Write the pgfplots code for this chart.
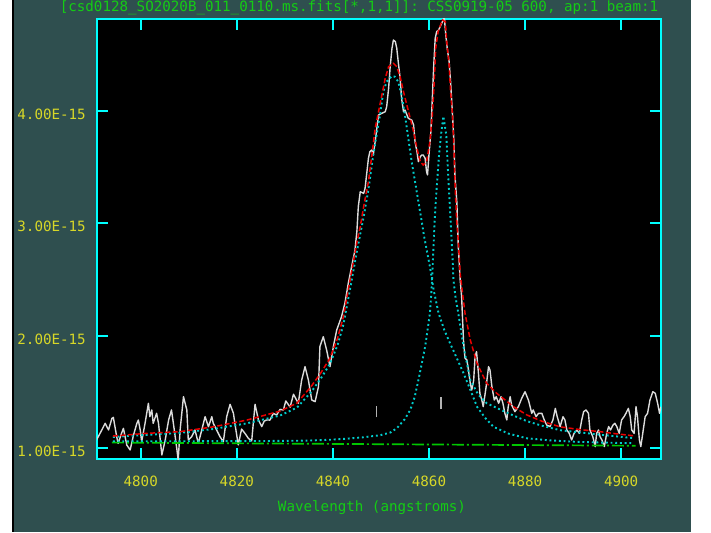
\documentclass[border=0pt]{standalone}
\usepackage{pgfplots}
\usepackage{pgfplotstable}
\pgfplotsset{compat=1.18}
\usepackage{fontspec}
\setmonofont{DejaVu Sans Mono}
\definecolor{slate}{RGB}{47,79,79}
\definecolor{cyanframe}{RGB}{0,255,255}
\definecolor{ticklab}{RGB}{215,215,40}
\definecolor{titlegreen}{RGB}{20,205,20}
\definecolor{compcyan}{RGB}{0,205,205}
\definecolor{fitred}{RGB}{235,0,0}
\definecolor{contgreen}{RGB}{0,200,0}
\definecolor{datawhite}{RGB}{220,220,220}

\pgfplotstableread{
x y
4790.8 1.073
4791.9 1.162
4792.6 1.221
4793.3 1.162
4794.0 1.265
4794.3 1.274
4795.0 1.102
4795.3 1.043
4796.0 1.132
4796.4 1.176
4797.1 1.028
4797.8 0.984
4798.5 1.117
4799.2 1.221
4799.5 1.250
4799.9 1.162
4800.2 1.058
4800.9 1.221
4801.6 1.399
4801.9 1.280
4802.3 1.340
4802.6 1.221
4803.3 1.310
4803.7 1.221
4804.4 0.940
4805.1 1.073
4805.8 1.250
4806.4 1.340
4806.8 1.221
4807.5 0.999
4807.8 0.895
4808.2 1.162
4808.9 1.458
4809.6 1.340
4809.9 1.073
4810.6 1.102
4811.3 1.162
4812.0 1.043
4812.7 1.162
4813.4 1.280
4814.1 1.191
4814.8 1.280
4815.1 1.221
4815.8 1.162
4816.5 1.102
4817.2 1.058
4817.9 1.280
4818.6 1.390
4819.3 1.310
4819.6 1.221
4820.3 1.030
4821.0 1.170
4821.7 1.132
4822.4 1.088
4823.1 1.065
4823.8 1.390
4824.5 1.251
4825.2 1.192
4825.7 1.240
4826.2 1.251
4826.9 1.250
4827.6 1.310
4828.3 1.295
4829.0 1.345
4829.7 1.340
4830.2 1.420
4831.1 1.365
4831.8 1.480
4832.8 1.399
4833.5 1.606
4834.2 1.725
4834.9 1.606
4835.6 1.428
4836.3 1.414
4837.0 1.547
4837.3 1.903
4838.0 1.991
4838.7 1.873
4839.4 1.725
4840.1 1.903
4840.8 2.051
4841.8 2.169
4842.5 2.288
4843.2 2.465
4843.9 2.614
4844.6 2.762
4845.0 2.930
4845.3 3.150
4845.7 3.280
4846.4 3.265
4846.7 3.310
4847.4 3.577
4847.7 3.636
4848.1 3.651
4848.4 3.606
4848.8 3.725
4849.5 3.962
4850.2 3.977
4850.9 3.991
4851.2 4.036
4851.6 4.199
4851.9 4.377
4852.3 4.554
4852.6 4.628
4853.0 4.614
4853.3 4.554
4853.6 4.436
4854.0 4.288
4854.3 4.110
4854.7 3.991
4855.0 4.006
4855.7 3.932
4856.4 3.917
4856.8 3.873
4857.1 3.725
4857.5 3.636
4857.8 3.547
4858.2 3.591
4858.5 3.606
4858.8 3.606
4859.2 3.577
4859.5 3.458
4859.7 3.429
4860.0 3.606
4860.4 3.814
4860.7 4.110
4861.0 4.406
4861.3 4.643
4861.6 4.702
4862.0 4.717
4862.5 4.762
4862.8 4.791
4863.2 4.830
4863.5 4.673
4863.8 4.554
4864.2 4.436
4864.5 4.258
4864.9 3.962
4865.2 3.725
4865.4 3.429
4865.8 3.190
4866.1 2.800
4866.5 2.495
4866.8 2.347
4867.0 2.140
4867.2 1.950
4867.5 1.800
4867.9 1.784
4868.2 1.700
4868.6 1.577
4868.9 1.517
4869.3 1.600
4869.6 1.814
4869.9 1.858
4870.3 1.666
4870.6 1.488
4871.0 1.428
4871.3 1.369
4871.9 1.547
4872.4 1.725
4872.7 1.695
4873.1 1.547
4873.6 1.428
4874.0 1.458
4874.5 1.399
4875.0 1.458
4875.4 1.399
4875.8 1.310
4876.2 1.251
4876.5 1.369
4876.9 1.458
4877.2 1.384
4877.9 1.325
4878.6 1.369
4879.3 1.443
4880.0 1.502
4880.7 1.428
4881.4 1.310
4881.7 1.340
4882.3 1.280
4882.8 1.310
4883.5 1.310
4884.0 1.251
4884.5 1.206
4885.2 1.192
4885.8 1.251
4886.3 1.354
4886.7 1.280
4887.3 1.192
4887.9 1.280
4888.3 1.251
4888.7 1.162
4889.2 1.132
4889.7 1.073
4890.2 1.132
4890.8 1.162
4891.3 1.132
4891.8 1.251
4892.2 1.325
4892.7 1.340
4893.2 1.310
4893.5 1.162
4894.1 1.103
4894.6 1.014
4894.9 1.132
4895.3 1.162
4895.6 1.103
4896.0 1.073
4896.5 1.014
4897.0 1.132
4897.4 1.192
4897.8 1.162
4898.3 1.206
4898.7 1.221
4899.1 1.192
4899.6 1.132
4900.1 1.251
4900.6 1.280
4901.0 1.310
4901.5 1.354
4901.9 1.280
4902.2 1.162
4902.7 1.132
4903.1 1.369
4903.4 1.280
4903.8 1.073
4904.1 1.014
4904.5 1.132
4905.0 1.280
4905.5 1.310
4906.0 1.428
4906.6 1.502
4907.1 1.488
4907.6 1.399
4908.0 1.310
4908.3 1.369
}\spectrum

\pgfplotstableread{
x y
4794.2 1.108
4801.2 1.132
4808.2 1.147
4815.1 1.190
4822.1 1.250
4829.0 1.330
4832.5 1.400
4835.5 1.550
4837.5 1.670
4839.4 1.800
4841.0 1.980
4842.2 2.170
4843.6 2.500
4845.0 2.830
4845.7 2.970
4846.5 3.170
4847.4 3.370
4848.1 3.600
4848.8 3.843
4849.5 3.991
4850.2 4.140
4850.9 4.288
4851.6 4.391
4852.6 4.421
4853.3 4.391
4854.0 4.302
4854.7 4.169
4855.4 4.050
4856.1 3.932
4856.8 3.813
4857.5 3.665
4858.2 3.547
4858.8 3.517
4859.5 3.547
4860.2 3.724
4860.7 3.962
4861.1 4.258
4861.4 4.555
4861.9 4.702
4862.8 4.806
4863.4 4.791
4863.7 4.613
4864.2 4.406
4864.5 4.169
4864.9 3.962
4865.2 3.665
4865.4 3.369
4865.8 3.000
4866.1 2.850
4866.5 2.550
4867.5 2.200
4868.6 1.962
4870.0 1.755
4872.0 1.577
4874.1 1.488
4877.6 1.369
4880.4 1.295
4883.5 1.240
4887.3 1.190
4891.5 1.165
4895.6 1.147
4899.0 1.128
4902.5 1.111
}\fit

\pgfplotstableread{
x y
4794.2 1.100
4801.0 1.118
4808.0 1.135
4815.0 1.170
4822.0 1.220
4829.0 1.290
4832.5 1.360
4835.5 1.500
4837.5 1.620
4839.4 1.750
4841.0 1.920
4842.2 2.100
4843.6 2.420
4845.0 2.750
4846.5 3.080
4847.4 3.300
4848.4 3.606
4849.8 3.962
4850.5 4.169
4851.2 4.258
4852.3 4.308
4852.9 4.302
4853.6 4.258
4854.3 4.140
4855.0 3.962
4855.7 3.754
4856.4 3.547
4857.1 3.369
4857.8 3.191
4858.5 3.013
4859.0 2.880
4860.2 2.613
4861.0 2.400
4862.0 2.200
4863.2 2.050
4864.4 1.932
4865.8 1.800
4867.2 1.666
4868.6 1.520
4870.0 1.369
4871.7 1.270
4873.4 1.191
4876.5 1.130
4880.4 1.088
4885.0 1.070
4890.0 1.058
4896.0 1.050
4902.5 1.044
}\compone

\pgfplotstableread{
x y
4794.2 1.062
4810.0 1.062
4820.0 1.063
4830.0 1.065
4835.0 1.068
4839.4 1.075
4843.0 1.085
4846.3 1.097
4849.8 1.115
4852.0 1.140
4853.3 1.177
4855.0 1.260
4856.1 1.340
4857.0 1.450
4857.8 1.606
4858.5 1.750
4859.2 1.902
4859.7 2.050
4860.2 2.200
4860.6 2.450
4860.9 2.750
4861.2 3.030
4861.5 3.250
4861.8 3.428
4862.1 3.606
4862.5 3.784
4863.0 3.950
4863.6 3.784
4863.8 3.606
4864.0 3.428
4864.3 3.190
4864.6 2.950
4864.9 2.700
4865.1 2.495
4865.5 2.350
4866.1 2.200
4867.2 1.902
4868.6 1.606
4870.2 1.480
4872.0 1.400
4875.0 1.340
4877.6 1.290
4880.4 1.240
4883.5 1.200
4887.3 1.160
4891.5 1.140
4895.6 1.120
4899.0 1.105
4902.5 1.090
}\comptwo

\pgfplotstableread{
x y
4794.0 1.050
4903.0 1.022
}\continuum

\begin{document}
\begin{tikzpicture}[x=1pt,y=1pt]
\useasboundingbox (0,0) rectangle (711,532);
\fill[white] (0,0) rectangle (711,532);
\fill[black] (12,0) rectangle (14,532);
\fill[slate] (14,0) rectangle (691,532);
\begin{axis}[
  at={(97pt,73pt)}, anchor=south west,
  scale only axis, width=564pt, height=440pt,
  xmin=4790.9, xmax=4908.3, ymin=0.904, ymax=4.815,
  axis background/.style={fill=black},
  axis line style={draw=cyanframe, line width=1.8pt},
  xtick={4800,4820,4840,4860,4880,4900},
  xticklabels={4800,4820,4840,4860,4880,4900},
  ytick={1,2,3,4},
  yticklabels={1.00E-15,2.00E-15,3.00E-15,4.00E-15},
  tick align=inside,
  xtick pos=both, ytick pos=both,
  major tick length=11pt,
  tick style={draw=cyanframe, line width=1.8pt},
  ticklabel style={font=\ttfamily\fontsize{14.2}{16}\selectfont, text=ticklab, inner sep=0pt},
  xticklabel style={anchor=base, yshift=-27pt},
  yticklabel style={anchor=base east, xshift=-11pt, yshift=-8.6pt},
  clip=true,
]
\addplot[datawhite, line width=1.4pt, line join=round] table {\spectrum};
\addplot[contgreen, line width=1.7pt, dash pattern=on 12pt off 3pt on 2pt off 3pt] table {\continuum};
\addplot[compcyan, line width=1.9pt, dash pattern=on 1.9pt off 2.8pt] table {\compone};
\addplot[compcyan, line width=1.9pt, dash pattern=on 1.9pt off 2.8pt] table {\comptwo};
\addplot[fitred, line width=1.5pt, dash pattern=on 5pt off 2.5pt] table {\fit};
\addplot[gray!60!white, line width=1.5pt] coordinates {(4849.1,1.275) (4849.1,1.375)};
\addplot[gray!60!white, line width=1.5pt] coordinates {(4862.5,1.345) (4862.5,1.457)};
\end{axis}
\node[anchor=base, text=titlegreen, font=\ttfamily\fontsize{14.2}{16}\selectfont] at (359,520.5) {[csd0128\_SO2020B\_011\_0110.ms.fits[*,1,1]]: CSS0919-05 600, ap:1 beam:1};
\node[anchor=base, text=titlegreen, font=\ttfamily\fontsize{14.2}{16}\selectfont] at (372,20) {Wavelength (angstroms)};
\end{tikzpicture}
\end{document}
